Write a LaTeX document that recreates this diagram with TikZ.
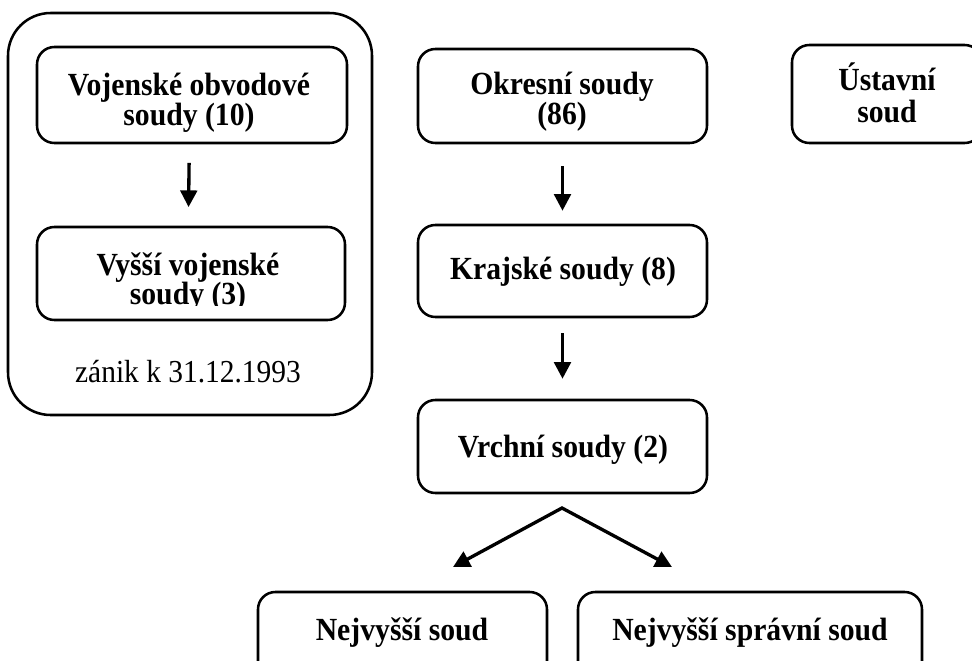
\documentclass[tikz,border=0pt]{standalone}
\usepackage{fontspec}
\setmainfont[FakeStretch=0.92]{Liberation Serif}
\usetikzlibrary{arrows.meta}
\begin{document}
\begin{tikzpicture}[x=0.75pt,y=-0.75pt,
  box/.style={draw, line width=1.9pt, rounded corners=13pt, inner sep=0pt},
  lbl/.style={font=\bfseries\fontsize{24.2}{26}\selectfont, inner sep=0pt, anchor=base},
  plain/.style={font=\fontsize{24}{26}\selectfont, inner sep=0pt, anchor=base},
  tip/.tip={Triangle[length=12.5pt,width=12.5pt]},
  arr/.style={line width=2.5pt, -tip}]
\useasboundingbox (0,0) rectangle (972,661);
\clip (0,0) rectangle (972,661);

% military courts container
\node[box, rounded corners=32pt, minimum width=273pt, minimum height=301.5pt] (mil) at (190,214) {};
\node[box, minimum width=232.5pt, minimum height=72pt] (vob) at (192,95) {};
\node[lbl] (vobA) at (189,95) {Vojenské obvodové};
\node[lbl] (vobB) at (189,125) {soudy (10)};
\node[box, minimum width=231pt, minimum height=69.75pt] (vys) at (191,273.5) {};
\begin{scope}
\clip (37,227) rectangle (345,305.5);
\node[lbl] (vysA) at (188,275) {Vyšší vojenské};
\node[lbl] (vysB) at (188,304) {soudy (3)};
\end{scope}
\node[plain] (zanik) at (188,382) {zánik k 31.12.1993};

% general courts
\node[box, minimum width=216.75pt, minimum height=70.5pt] (okr) at (562.5,96) {};
\node[lbl] (okrA) at (562,94) {Okresní soudy};
\node[lbl] (okrB) at (562,124) {(86)};
\node[box, minimum width=216.75pt, minimum height=69pt] (kraj) at (562.5,271) {};
\node[lbl] (krajA) at (563,279) {Krajské soudy (8)};
\node[box, minimum width=216.75pt, minimum height=69.75pt] (vrch) at (562.5,446.5) {};
\node[lbl] (vrchA) at (563,457) {Vrchní soudy (2)};

\node[box, minimum width=142.5pt, minimum height=73.5pt] (ust) at (887,94) {};
\node[lbl] (ustA) at (887,90) {Ústavní};
\node[lbl] (ustB) at (887,122) {soud};

\node[box, minimum width=216.75pt, minimum height=75pt] (nejv) at (402.5,642) {};
\node[lbl] (nejvA) at (402,640) {Nejvyšší soud};
\node[box, minimum width=258pt, minimum height=75pt] (nsp) at (750,642) {};
\node[lbl] (nspA) at (750,640) {Nejvyšší správní soud};

% connectors
\draw[arr, shorten <=14pt, shorten >=14pt] ([xshift=-2pt]vob.south) -- ([xshift=-2pt]vys.north);
\draw[arr, shorten <=16.5pt, shorten >=9.75pt] (okr.south) -- (kraj.north);
\draw[arr, shorten <=11.25pt, shorten >=15pt] (kraj.south) -- (vrch.north);
\coordinate (apex) at (562,508);
\coordinate (tipL) at (453,567);
\coordinate (tipR) at (672,567);
\draw[line width=2.5pt, tip-tip, line join=miter] (tipL) -- (apex) -- (tipR);
\end{tikzpicture}
\end{document}
